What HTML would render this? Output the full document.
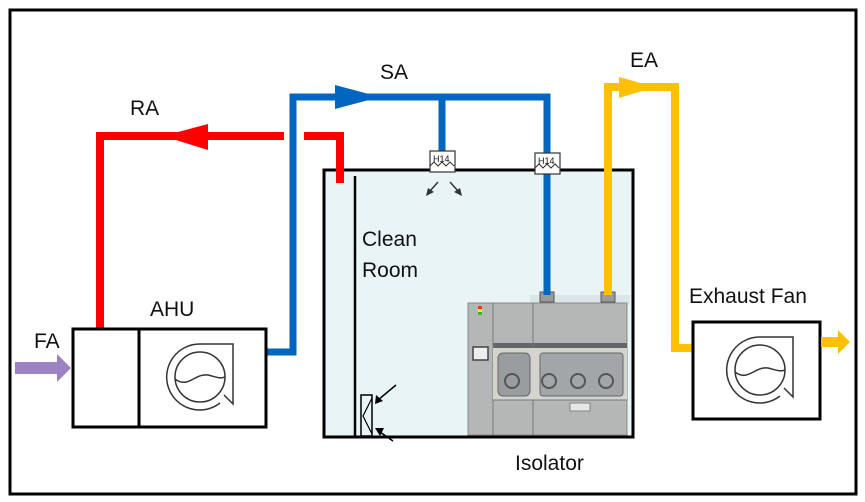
<!DOCTYPE html>
<html><head><meta charset="utf-8"><style>
html,body{margin:0;padding:0;background:#fff}
svg{display:block}
text{font-family:"Liberation Sans",sans-serif;font-size:21px;fill:#111}
</style></head><body>
<svg width="865" height="502" viewBox="0 0 865 502" xmlns="http://www.w3.org/2000/svg">
<defs>
<g id="fan" fill="none" stroke="#333" stroke-width="1.5">
  <circle cx="0" cy="0" r="25"/>
  <path d="M-25,2 C-12,12 -5,-4 8,-2 C16,0 20,2 25,0"/>
  <path d="M20,26 A33,33 0 1 1 0,-33 L33,-33 L33,27 L24,18"/>
</g>
</defs>
<rect x="10" y="10" width="846" height="484" fill="none" stroke="#000" stroke-width="3"/>

<!-- clean room -->
<rect x="324" y="170" width="309" height="267" fill="#e9f4f7" stroke="#000" stroke-width="3"/>
<line x1="355" y1="176" x2="355" y2="437" stroke="#000" stroke-width="2.5"/>
<rect x="361" y="395" width="11" height="41" fill="none" stroke="#000" stroke-width="1.5"/>
<path d="M372,398 L363,416 L372,434" fill="none" stroke="#000" stroke-width="1.2"/>
<line x1="396" y1="385" x2="378" y2="400" stroke="#000" stroke-width="1.5"/>
<path d="M375,404 L376,395 L383,401 Z" fill="#000"/>
<line x1="393" y1="441" x2="380" y2="432" stroke="#000" stroke-width="1.5"/>
<path d="M375,428 L384,428 L380,436 Z" fill="#000"/>
<text x="362" y="246">Clean</text>
<text x="362" y="277">Room</text>

<!-- isolator -->
<rect x="530" y="295" width="100" height="10" fill="#dbe6ea"/>
<rect x="468" y="303" width="159" height="132" fill="#b5b7b7" stroke="#888" stroke-width="1"/>
<rect x="493" y="343" width="134" height="5" fill="#666"/>
<line x1="493" y1="303" x2="493" y2="435" stroke="#777"/>
<line x1="533" y1="303" x2="533" y2="435" stroke="#777"/>
<rect x="493" y="348" width="134" height="52" fill="#d3d3cf"/>
<rect x="498" y="353" width="32" height="43" rx="5" fill="#9a9d9f" stroke="#666"/>
<rect x="540" y="353" width="83" height="43" rx="3" fill="#a3a6a8" stroke="#666"/>
<circle cx="512" cy="381" r="7" fill="none" stroke="#555" stroke-width="2"/>
<circle cx="549" cy="381" r="7" fill="none" stroke="#555" stroke-width="2"/>
<circle cx="578" cy="381" r="7" fill="none" stroke="#555" stroke-width="2"/>
<circle cx="606" cy="381" r="7" fill="none" stroke="#555" stroke-width="2"/>
<rect x="473" y="347" width="15" height="13" fill="#eee" stroke="#444" stroke-width="1.5"/>
<rect x="478" y="306" width="4" height="3" fill="#e33"/><rect x="478" y="309" width="4" height="3" fill="#ee3"/><rect x="478" y="312" width="4" height="3" fill="#3b3"/>
<rect x="570" y="403" width="20" height="8" fill="#e6e6e6" stroke="#888"/>
<line x1="493" y1="400" x2="627" y2="400" stroke="#777"/>
<rect x="540" y="292" width="14" height="10" fill="#9a9a9a" stroke="#555"/>
<rect x="601" y="292" width="14" height="10" fill="#9a9a9a" stroke="#555"/>

<!-- red RA -->
<g fill="none" stroke="#f00" stroke-width="8">
<polyline points="100,330 100,136 284,136"/>
<polyline points="304,136 340,136 340,183"/>
</g>
<path d="M163,136 L208,124 L208,150 Z" fill="#f00"/>
<text x="130" y="115">RA</text>

<!-- blue SA -->
<g fill="none" stroke="#0066bf" stroke-width="7">
<polyline points="266,352 293,352 293,97 547,97 547,295"/>
<line x1="442" y1="97" x2="442" y2="152"/>
</g>
<path d="M380,97 L335,85 L335,109 Z" fill="#0066bf"/>
<text x="380" y="79">SA</text>
<!-- filters -->
<g fill="#fff" stroke="#333" stroke-width="1.2">
<rect x="430" y="151" width="25" height="21"/>
<rect x="535" y="153" width="25" height="21"/>
</g>
<g fill="none" stroke="#333" stroke-width="1">
<path d="M430,166 l4,-4 4,4 4,-4 4,4 4,-4 4,4 M430,172 h25"/>
<path d="M535,168 l4,-4 4,4 4,-4 4,4 4,-4 4,4"/>
</g>
<text x="433" y="162" style="font-size:9px">H14</text>
<text x="538" y="164" style="font-size:9px">H14</text>
<line x1="438" y1="182" x2="430" y2="191" stroke="#333" stroke-width="1.5"/>
<path d="M426,196 L428,188 L434,192 Z" fill="#333"/>
<line x1="450" y1="182" x2="458" y2="191" stroke="#333" stroke-width="1.5"/>
<path d="M462,196 L454,192 L460,188 Z" fill="#333"/>

<!-- yellow EA -->
<g fill="none" stroke="#ffc000" stroke-width="8">
<polyline points="608,295 608,87 675,87 675,348 695,348"/>
</g>
<path d="M655,87 L619,77 L619,98 Z" fill="#ffc000"/>
<text x="630" y="67">EA</text>

<!-- AHU -->
<rect x="73" y="329" width="193" height="98" fill="#fff" stroke="#000" stroke-width="3"/>
<line x1="139" y1="329" x2="139" y2="427" stroke="#000" stroke-width="3"/>
<use href="#fan" x="200" y="377"/>
<text x="150" y="316">AHU</text>
<path d="M15,362 L57,362 L57,354 L71,368 L57,382 L57,374 L15,374 Z" fill="#9b82c2"/>
<text x="34" y="348">FA</text>

<!-- exhaust fan -->
<rect x="693" y="322" width="127" height="97" fill="#fff" stroke="#000" stroke-width="3"/>
<use href="#fan" x="760" y="370"/>
<text x="689" y="303">Exhaust Fan</text>
<path d="M821,337 L838,337 L838,330 L850,342 L838,354 L838,347 L821,347 Z" fill="#ffc000"/>

<text x="515" y="470">Isolator</text>
</svg>
</body></html>
